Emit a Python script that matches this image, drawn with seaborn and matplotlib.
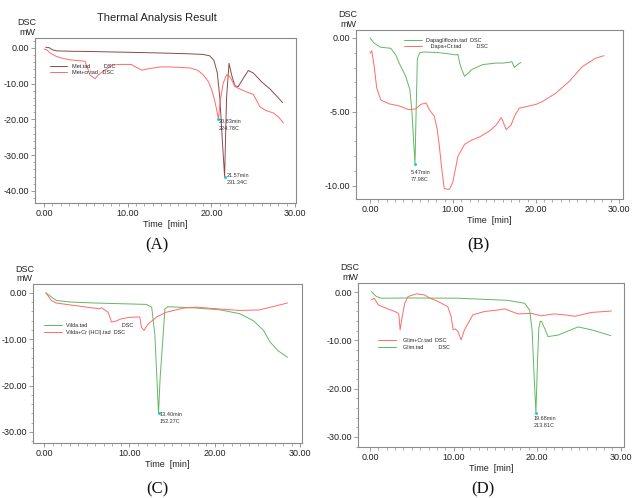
import pandas as pd
import seaborn as sns
import matplotlib.pyplot as plt

# ---- panel A: metformin ----
met_x = [0.2, 0.6, 1.0, 1.5, 3.0, 6.0, 10.0, 14.0, 17.0, 19.0, 19.8, 20.3, 20.7, 21.0, 21.3, 21.57,
         21.8, 22.1, 22.4, 22.8, 23.2, 23.8, 24.4, 25.0, 26.0, 27.0, 28.0, 28.5]
met_y = [0.2, 0.1, -0.5, -0.8, -0.9, -1.0, -1.2, -1.4, -1.6, -1.8, -2.2, -3.5, -7.0, -14.0, -26.0, -36.0,
         -14.0, -4.3, -7.5, -10.6, -10.8, -8.5, -6.3, -7.0, -9.5, -11.5, -14.0, -15.3]
metcr_x = [0.0, 0.3, 0.8, 1.5, 2.1, 3.0, 4.9, 5.5, 6.1, 6.5, 7.1, 8.1, 9.1, 10.4, 11.1, 11.7, 12.5, 13.9,
           14.8, 16.0, 17.5, 18.4, 19.0, 19.6, 20.0, 20.4, 20.83, 21.1, 21.4, 21.8, 22.2, 22.8, 23.4,
           24.2, 25.0, 25.8, 26.5, 27.4, 28.0, 28.6]
metcr_y = [-0.3, -0.5, -1.5, -2.4, -2.8, -3.3, -3.7, -7.6, -8.6, -7.5, -6.5, -4.8, -4.6, -4.6, -5.5, -6.2,
           -5.8, -5.3, -5.3, -5.4, -5.6, -6.3, -7.5, -9.3, -11.5, -14.8, -19.8, -14.0, -9.9, -7.5, -8.0,
           -10.8, -11.5, -12.3, -13.0, -16.5, -17.5, -18.2, -19.3, -21.0]

# ---- panel B: dapagliflozin ----
dapa_x = [0.0, 0.5, 1.3, 2.5, 3.1, 3.5, 4.3, 4.8, 5.06, 5.25, 5.42, 5.55, 5.7, 6.0, 6.5, 8.0, 9.6, 10.4,
          10.6, 10.8, 11.1, 11.4, 11.8, 12.2, 12.8, 13.6, 14.4, 15.2, 16.0, 16.8, 17.1, 17.4, 17.8, 18.2]
dapa_y = [0.0, -0.36, -0.63, -0.7, -1.15, -1.7, -2.6, -3.5, -5.1, -7.0, -8.5, -5.0, -1.4, -1.0, -0.95,
          -0.98, -1.08, -1.15, -1.1, -1.7, -2.2, -2.6, -2.4, -2.16, -2.0, -1.8, -1.75, -1.7, -1.7, -1.65,
          -1.6, -2.0, -1.8, -1.65]
dapacr_x = [0.0, 0.2, 0.5, 0.8, 1.3, 2.3, 3.5, 4.7, 5.5, 6.1, 6.75, 7.15, 7.75, 8.1, 8.35, 8.65, 8.95,
            9.55, 9.96, 10.6, 11.4, 12.3, 13.2, 14.4, 15.2, 15.8, 16.0, 16.4, 17.0, 17.5, 18.0, 18.8,
            20.0, 20.8, 22.4, 24.0, 25.6, 27.2, 28.2]
dapacr_y = [-1.04, -0.86, -1.94, -3.4, -4.2, -4.46, -4.6, -4.86, -4.8, -4.5, -4.4, -4.86, -5.3, -6.2,
            -7.3, -8.9, -10.2, -10.25, -9.8, -8.0, -7.2, -6.9, -6.7, -6.3, -5.9, -5.4, -5.6, -6.2, -5.9,
            -5.2, -4.75, -4.65, -4.5, -4.3, -3.74, -2.95, -1.94, -1.37, -1.2]

# ---- panel C: vildagliptin ----
vilda_x = [0.2, 0.86, 1.44, 3.2, 6.0, 9.0, 12.0, 12.6, 12.97, 13.2, 13.4, 13.6, 13.95, 14.15, 14.5,
           17.5, 20.6, 22.9, 24.5, 25.7, 26.46, 27.4, 28.5]
vilda_y = [0.0, -0.9, -1.66, -2.0, -2.2, -2.35, -2.5, -3.1, -8.9, -18.0, -26.0, -18.0, -8.9, -3.46,
           -3.0, -3.24, -3.67, -4.5, -6.0, -8.1, -10.6, -12.5, -13.9]
vildacr_x = [0.2, 0.86, 1.44, 3.4, 6.5, 6.7, 7.5, 7.9, 8.4, 9.07, 10.0, 11.2, 11.4, 11.7, 12.2, 13.2,
             14.3, 16.3, 17.8, 20.6, 22.9, 25.2, 26.85, 28.5]
vildacr_y = [0.0, -1.66, -2.2, -2.7, -3.46, -3.2, -4.2, -6.3, -6.1, -5.6, -5.3, -5.2, -7.4, -8.1, -6.7,
             -5.2, -4.2, -3.3, -3.1, -3.5, -3.8, -3.7, -2.95, -2.2]

# ---- panel D: glimepiride ----
glim_x = [0.16, 0.75, 1.35, 5.0, 10.5, 16.5, 18.5, 19.1, 19.4, 19.6, 19.85, 20.05, 20.2, 20.35, 20.5,
          20.9, 21.3, 22.5, 24.9, 26.5, 28.8]
glim_y = [0.14, -0.9, -1.25, -1.2, -1.25, -1.7, -2.3, -3.7, -8.0, -16.0, -25.0, -14.0, -7.5, -6.1, -6.0,
          -7.5, -9.2, -8.9, -7.2, -7.8, -9.0]
glimcr_x = [0.16, 0.5, 0.96, 2.16, 2.96, 3.3, 3.45, 3.6, 3.8, 4.15, 4.55, 5.55, 6.5, 7.15, 8.1, 9.3, 9.7,
            9.94, 10.2, 10.5, 10.9, 11.3, 12.3, 13.7, 15.3, 16.1, 17.7, 19.3, 20.5, 22.0, 23.3, 24.5,
            26.5, 28.9]
glimcr_y = [-1.6, -1.25, -2.6, -3.5, -4.0, -4.3, -4.6, -7.8, -5.6, -2.3, -0.9, -0.35, -0.55, -1.24, -1.9,
            -3.0, -5.0, -7.8, -7.6, -8.1, -9.9, -7.8, -4.7, -4.0, -3.7, -3.45, -4.5, -4.4, -4.9, -4.5,
            -4.7, -5.0, -4.2, -3.9]

# peak labels
peaks_a = [(20.83, -19.8, "20.83min\n224.78C"), (21.57, -36.0, "21.57min\n231.34C")]
peaks_b = [(5.42, -8.5, "5.47min\n77.98C")]
peaks_c = [(13.4, -26.0, "13.40min\n152.27C")]
peaks_d = [(19.85, -25.0, "19.68min\n213.81C")]

RED = "#ff6a6a"
GREEN = "#62b862"
BROWN = "#8e4848"
GRAY = "#8a8a8a"

sns.set_style("ticks")
plt.rcParams["font.family"] = ["Liberation Sans", "DejaVu Sans"]
plt.rcParams["axes.unicode_minus"] = False


def draw_panel(ax, series, xlim, ylim, yticks, minor_y, legend_anchor, peaks, peak_offset):
    for xs, ys, label, color in series:
        df = pd.DataFrame({"time": xs, "dsc": ys})
        sns.lineplot(data=df, x="time", y="dsc", ax=ax, color=color, linewidth=0.7,
                     sort=False, estimator=None, label=label)
    for (px, py, txt), off in zip(peaks, peak_offset):
        ax.plot([px], [py], marker="o", markersize=1.2, color="#20d0e0", linestyle="none")
        ax.annotate(txt, xy=(px, py), xytext=off, textcoords="offset points",
                    ha="left", va="top", fontsize=4, color="#333333", linespacing=1.5)
    ax.set_xlim(*xlim)
    ax.set_ylim(*ylim)
    ax.set_xticks([0, 10, 20, 30])
    ax.set_xticks(range(0, 31), minor=True)
    ax.set_yticks(yticks)
    ax.set_yticks(minor_y, minor=True)
    ax.xaxis.set_major_formatter("{x:.2f}")
    ax.yaxis.set_major_formatter("{x:.2f}")
    ax.tick_params(which="both", direction="out", color=GRAY, labelsize=6.5, labelcolor="#222222")
    ax.tick_params(which="major", length=3, width=0.6, pad=1.5)
    ax.tick_params(which="minor", length=1.8, width=0.5)
    for sp in ax.spines.values():
        sp.set_color(GRAY)
        sp.set_linewidth(0.8)
    ax.set_xlabel("Time  [min]", fontsize=6.5, labelpad=1, color="#222222")
    ax.set_ylabel("")
    ax.text(-0.03, 1.005, "DSC\nmW", transform=ax.transAxes, ha="center", va="bottom",
            fontsize=6.5, color="#222222", linespacing=1.1)
    ax.legend(loc="upper left", bbox_to_anchor=legend_anchor, frameon=False, fontsize=4,
              handlelength=3.2, handletextpad=0.8, borderpad=0, labelspacing=0.25)


fig = plt.figure(figsize=(6.34, 4.98), dpi=100)
ax_a = fig.add_axes([0.0552, 0.5924, 0.4117, 0.3313])
ax_b = fig.add_axes([0.5615, 0.6004, 0.4211, 0.3394])
ax_c = fig.add_axes([0.0520, 0.1104, 0.4243, 0.3193])
ax_d = fig.add_axes([0.5647, 0.1024, 0.4196, 0.3293])

draw_panel(ax_a,
           [(met_x, met_y, "Met.tad         DSC", BROWN),
            (metcr_x, metcr_y, "Met+cr.tad   DSC", RED)],
           (-1.08, 30.1), (-43.4, 2.8), [0, -10, -20, -30, -40], range(-42, 3, 2),
           (0.045, 0.86), peaks_a, [(0, 0), (1.8, 2.5)])
draw_panel(ax_b,
           [(dapa_x, dapa_y, "Dapagliflozin.tad  DSC", GREEN),
            (dapacr_x, dapacr_y, "   Dapa+Cr.tad          DSC", RED)],
           (-1.7, 30.5), (-10.9, 0.54), [0, -5, -10], range(-10, 1),
           (0.17, 0.97), peaks_b, [(-3, -5)])
draw_panel(ax_c,
           [(vilda_x, vilda_y, "Vilda.tad                       DSC", GREEN),
            (vildacr_x, vildacr_y, "Vilda+Cr (HCl).tad  DSC", RED)],
           (-1.3, 30.2), (-32.4, 1.9), [0, -10, -20, -30], range(-32, 1, 2),
           (0.03, 0.77), peaks_c, [(0.7, 0.7)])
draw_panel(ax_d,
           [(glimcr_x, glimcr_y, "  Glim+Cr.tad  DSC", RED),
            (glim_x, glim_y, "  Glim.tad          DSC", GREEN)],
           (-1.44, 30.4), (-32.1, 1.9), [0, -10, -20, -30], range(-32, 1, 2),
           (0.065, 0.68), peaks_d, [(-1.5, -2)])

fig.text(157 / 634, 1 - 18 / 498, "Thermal Analysis Result", ha="center", va="center",
         fontsize=8, color="#222222")
for cx, cy, cap in [(157, 245, "(A)"), (478, 245, "(B)"), (157, 489, "(C)"), (483, 489, "(D)")]:
    fig.text(cx / 634, 1 - cy / 498, cap, ha="center", va="center", fontsize=12,
             family="Liberation Serif", color="#111111")

fig.savefig("out.png", dpi=100)
